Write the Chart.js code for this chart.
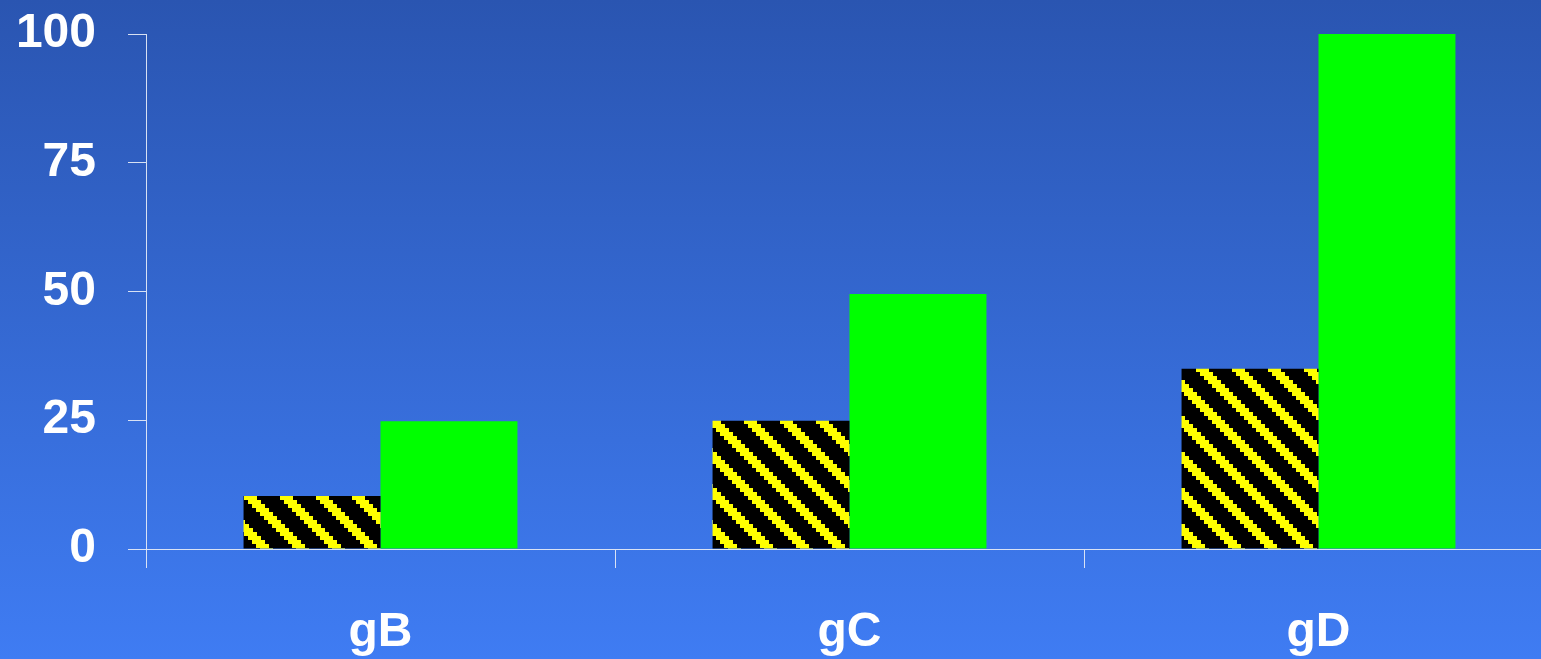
<!DOCTYPE html>
<html>
<head>
<meta charset="utf-8">
<script src="https://cdn.jsdelivr.net/npm/chart.js@4/dist/chart.umd.min.js"></script>
<style>
  html, body {
    margin: 0;
    padding: 0;
    width: 1541px;
    height: 659px;
    overflow: hidden;
    background: linear-gradient(to bottom, #2a55b1 0%, #3f7cf3 100%);
  }
  /* el área de trazado sigue más allá del borde derecho de la ventana */
  #wrap { position: relative; width: 1553px; height: 659px; }
</style>
</head>
<body>
<div id="wrap"><canvas id="barChart"></canvas></div>
<script>
// Datos
const categories = ["gB", "gC", "gD"];
const hatchedValues = [10.3, 24.9, 35];
const greenValues = [24.8, 49.5, 100];
const yTicks = [0, 25, 50, 75, 100];

const axisColor = "rgba(225, 232, 245, 0.95)";
const fontFamily = '"Liberation Sans", Arial, sans-serif';

const canvas = document.getElementById("barChart");
const ctx = canvas.getContext("2d");

// Patrón rayado negro/amarillo (diagonal "\", escalones de 4 px)
function makeHatch() {
  const tile = document.createElement("canvas");
  tile.width = 36;
  tile.height = 36;
  const g = tile.getContext("2d");
  g.fillStyle = "#000000";
  g.fillRect(0, 0, 36, 36);
  g.fillStyle = "#ffff00";
  for (let row = 0; row < 9; row++) {
    const x = row * 4;
    g.fillRect(x, row * 4, 13, 4);
    g.fillRect(x - 36, row * 4, 13, 4); // parte que da la vuelta
  }
  return ctx.createPattern(tile, "repeat");
}

new Chart(ctx, {
  type: "bar",
  data: {
    labels: categories,
    datasets: [
      {
        label: "rayado",
        data: hatchedValues,
        backgroundColor: makeHatch(),
        borderWidth: 0,
        categoryPercentage: 0.584,
        barPercentage: 1.0,
      },
      {
        label: "verde",
        data: greenValues,
        backgroundColor: "#00ff00",
        borderWidth: 0,
        categoryPercentage: 0.584,
        barPercentage: 1.0,
      },
    ],
  },
  options: {
    responsive: true,
    maintainAspectRatio: false,
    animation: false,
    layout: { padding: { top: 34, right: 0, bottom: 0, left: 0 } },
    plugins: {
      legend: { display: false },
      tooltip: { enabled: false },
    },
    scales: {
      x: {
        grid: {
          display: true,
          drawOnChartArea: false,
          drawTicks: true,
          tickLength: 19,
          color: axisColor,
          lineWidth: 1,
        },
        border: { display: true, color: axisColor, width: 1 },
        ticks: {
          color: "#ffffff",
          padding: 36,
          font: { family: fontFamily, size: 48, weight: "bold" },
        },
        afterFit: (scale) => { scale.height = 110; },
      },
      y: {
        min: 0,
        max: 100,
        afterBuildTicks: (scale) => {
          scale.ticks = yTicks.map((v) => ({ value: v }));
        },
        grid: {
          display: true,
          drawOnChartArea: false,
          drawTicks: true,
          tickLength: 18,
          color: axisColor,
          lineWidth: 1,
        },
        border: { display: true, color: axisColor, width: 1 },
        ticks: {
          color: "#ffffff",
          padding: 32,
          font: { family: fontFamily, size: 48, weight: "bold" },
        },
        afterFit: (scale) => {
          scale.width = 146;
          scale.paddingTop = 0;
          scale.paddingBottom = 0;
        },
      },
    },
  },
});
</script>
</body>
</html>
